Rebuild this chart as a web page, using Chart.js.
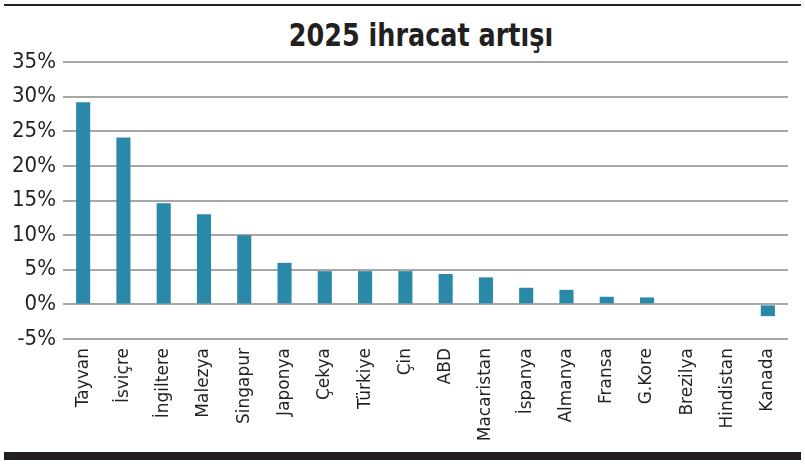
<!DOCTYPE html>
<html>
<head>
<meta charset="utf-8">
<script src="https://cdn.jsdelivr.net/npm/chart.js@4"></script>
<style>
  html, body { margin:0; padding:0; background:#fff; }
  #wrap { position:relative; width:805px; height:464px; overflow:hidden; }
  #topline { position:absolute; left:4px; width:797px; top:4px; height:2px; background:#231f20; }
  #bottombar { position:absolute; left:4px; width:797px; top:452px; height:8px; background:#231f20; }
  #title { position:absolute; left:0; width:842px; top:16px; text-align:center;
           font-family:"DejaVu Sans Condensed",sans-serif; font-weight:bold; font-size:32px; color:#231f20;
           transform:scaleX(0.885); transform-origin:421px 0; }
  #cv { position:absolute; left:0; top:0; }
</style>
</head>
<body>
<div id="wrap">
  <div id="topline"></div>
  <div id="title">2025 ihracat artışı</div>
  <canvas id="cv" width="805" height="450"></canvas>
  <div id="bottombar"></div>
</div>
<script>
const categories = ["Tayvan","İsviçre","İngiltere","Malezya","Singapur","Japonya","Çekya","Türkiye","Çin","ABD","Macaristan","İspanya","Almanya","Fransa","G.Kore","Brezilya","Hindistan","Kanada"];
const exportGrowth = [29.2, 24.1, 14.6, 13.0, 10.0, 6.0, 4.8, 4.8, 4.8, 4.4, 3.9, 2.4, 2.1, 1.1, 1.0, 0, 0, -1.7];
const yTicks = [-5, 0, 5, 10, 15, 20, 25, 30, 35];

new Chart(document.getElementById('cv'), {
  type: 'bar',
  data: {
    labels: categories,
    datasets: [{
      data: exportGrowth,
      backgroundColor: '#2a88a8',
      borderWidth: 0,
      categoryPercentage: 1,
      barPercentage: 0.35
    }]
  },
  options: {
    responsive: false,
    animation: false,
    devicePixelRatio: 1,
    layout: { padding: { top: 62, right: 17, bottom: 5, left: 0 } },
    plugins: { legend: { display: false }, title: { display: false }, tooltip: { enabled: false } },
    scales: {
      x: {
        grid: { display: false, drawTicks: false },
        border: { display: false },
        ticks: {
          minRotation: 90, maxRotation: 90, autoSkip: false, padding: 9,
          color: '#231f20',
          font: { family: '"DejaVu Sans"', size: 17 }
        },
        afterFit: s => { s.height = 106; }
      },
      y: {
        min: -5, max: 35,
        afterBuildTicks: s => { s.ticks = yTicks.map(v => ({ value: v })); },
        grid: { color: '#a7a7a9', lineWidth: 2, drawTicks: false },
        border: { display: false },
        ticks: {
          padding: 7, color: '#231f20',
          font: { family: '"DejaVu Sans Condensed"', size: 22 },
          callback: v => v + '%'
        },
        afterFit: s => { s.width = 63; }
      }
    }
  }
});
</script>
</body>
</html>
